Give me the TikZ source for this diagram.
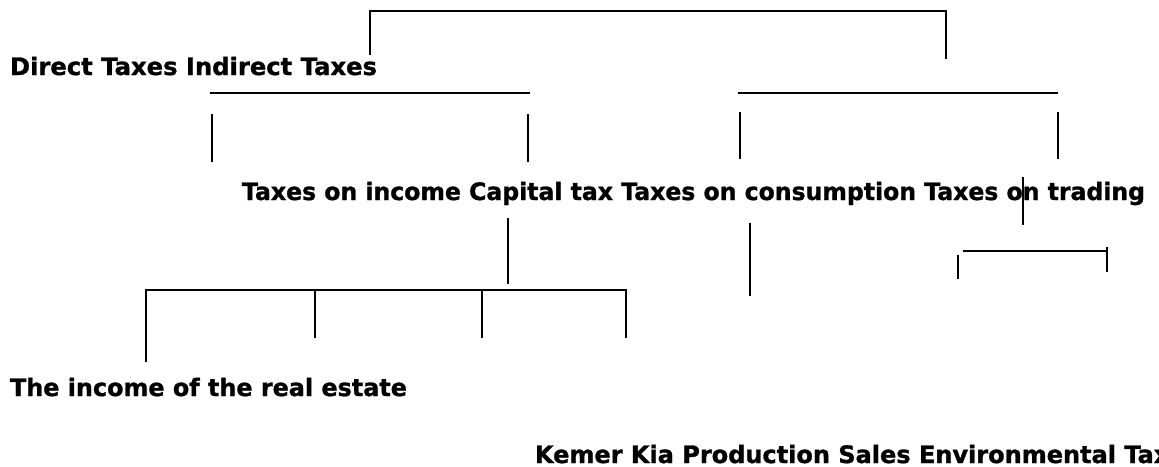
\documentclass[tikz,border=0pt]{standalone}
\usepackage{fontspec}
\setmainfont{DejaVu Sans}[BoldFeatures={FakeBold=1.2}]
\usepackage{graphicx}
\begin{document}
\begin{tikzpicture}[x=1pt,y=-1pt,
  lbl/.style={anchor=base west,inner sep=0pt,outer sep=0pt,font=\fontsize{24}{28}\selectfont\bfseries},
  ln/.style={line width=1.6pt,line cap=butt,black}]
\useasboundingbox (0,0) rectangle (1159,466);
% text rows
\node[lbl] (r1) at (10,75) {\resizebox{367pt}{\height}{Direct Taxes Indirect Taxes}};
\node[lbl] (r2) at (242,200) {\resizebox{903pt}{\height}{Taxes on income Capital tax Taxes on consumption Taxes on trading}};
\node[lbl] (r3) at (10,396) {\resizebox{397pt}{\height}{The income of the real estate}};
\node[lbl] (r4) at (535,463) {Kemer Kia Production Sales Environmental Tax};
% coordinates
\coordinate (t1) at (370,55); \coordinate (t2) at (370,11);
\coordinate (t3) at (946,11); \coordinate (t4) at (946,59);
\coordinate (a1) at (210,93); \coordinate (a2) at (530,93);
\coordinate (a3) at (212,114); \coordinate (a4) at (212,162);
\coordinate (a5) at (528,114); \coordinate (a6) at (528,162);
\coordinate (b1) at (738,93); \coordinate (b2) at (1058,93);
\coordinate (b3) at (740,112); \coordinate (b4) at (740,159);
\coordinate (b5) at (1058,112); \coordinate (b6) at (1058,159);
\coordinate (c1) at (1023,177); \coordinate (c2) at (1023,225);
\coordinate (d1) at (750,223); \coordinate (d2) at (750,296);
\coordinate (e1) at (508,218); \coordinate (e2) at (508,284);
\coordinate (f1) at (146,290); \coordinate (f2) at (626,290);
\coordinate (f3) at (146,362);
\coordinate (g1) at (315,290); \coordinate (g2) at (315,338);
\coordinate (h1) at (482,290); \coordinate (h2) at (482,338);
\coordinate (f4) at (626,338);
\coordinate (s1) at (963,251); \coordinate (s2) at (1107,251);
\coordinate (s3) at (1107,247); \coordinate (s4) at (1107,272);
\coordinate (s5) at (958,255); \coordinate (s6) at (958,279);
% lines
\draw[ln] (t1) -- (t2) -- (t3) -- (t4);
\draw[ln] (a1) -- (a2);
\draw[ln] (a3) -- (a4);
\draw[ln] (a5) -- (a6);
\draw[ln] (b1) -- (b2);
\draw[ln] (b3) -- (b4);
\draw[ln] (b5) -- (b6);
\draw[ln] (c1) -- (c2);
\draw[ln] (d1) -- (d2);
\draw[ln] (e1) -- (e2);
\draw[ln] (f3) -- (f1) -- (f2) -- (f4);
\draw[ln] (g1) -- (g2);
\draw[ln] (h1) -- (h2);
\draw[ln] (s1) -- (s2);
\draw[ln] (s3) -- (s4);
\draw[ln] (s5) -- (s6);
\end{tikzpicture}
\end{document}
